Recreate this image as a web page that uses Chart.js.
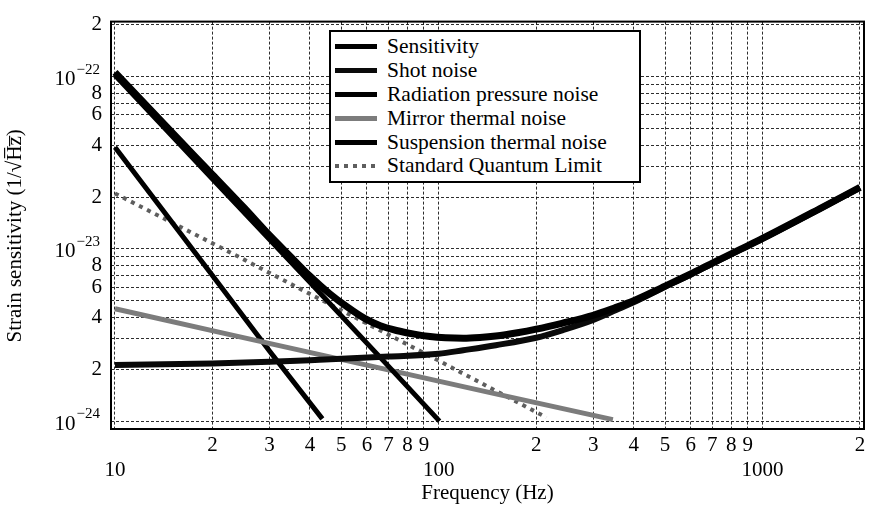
<!DOCTYPE html>
<html>
<head>
<meta charset="utf-8">
<script src="https://cdn.jsdelivr.net/npm/chart.js@4.4.1/dist/chart.umd.min.js"></script>
<style>
html,body{margin:0;padding:0;background:#fff;}
#wrap{position:relative;width:873px;height:506px;}
#legend{position:absolute;left:329px;top:30px;width:312px;height:153px;box-sizing:border-box;border:2px solid #000;background:#fff;padding:3px 0 0 4px;font-family:'Liberation Serif','Times New Roman',serif;font-size:21.5px;color:#000;}
#legend .row{height:23.8px;display:flex;align-items:center;white-space:nowrap;}
#legend .sw{width:42px;margin-right:10px;flex:none;}
</style>
</head>
<body>
<div id="wrap"><canvas id="c" width="873" height="506"></canvas><div id="legend"></div></div>
<script>
// ---- tick values and labels ----
const xTickValues = [10,20,30,40,50,60,70,80,90,100,200,300,400,500,600,700,800,900,1000,2000];
const xTickLabels = ['10','2','3','4','5','6','7','8','9','100','2','3','4','5','6','7','8','9','1000','2'];
const yTickValues = [1e-24,2e-24,3e-24,4e-24,5e-24,6e-24,7e-24,8e-24,9e-24,1e-23,2e-23,3e-23,4e-23,5e-23,6e-23,7e-23,8e-23,9e-23,1e-22,2e-22];
const yTickLabels = ['10^-24','2','','4','','6','','8','','10^-23','2','','4','','6','','8','','10^-22','2'];

// ---- series (frequency in Hz, strain in 1/sqrt(Hz)) ----
const sensFreq = [10,15,20,25,30,35,40,46,52,59,66,74,84,94,105,119,134,150,175,200,240,300,350,400,500,600,700,850,1000,1500,2000];
const sensVal  = [1.06e-22,4.75e-23,2.7e-23,1.74e-23,1.2e-23,8.95e-24,6.95e-24,5.5e-24,4.62e-24,3.95e-24,3.58e-24,3.36e-24,3.2e-24,3.1e-24,3.05e-24,3.03e-24,3.06e-24,3.12e-24,3.26e-24,3.42e-24,3.7e-24,4.12e-24,4.55e-24,5.0e-24,6.08e-24,7.15e-24,8.28e-24,9.9e-24,1.15e-23,1.71e-23,2.28e-23];

const shotFreq = [10,20,30,40,50,70,100,119,150,200,242,300,353,400,500,600,700,850,1000,1500,2000];
const shotVal  = [2.12e-24,2.16e-24,2.21e-24,2.26e-24,2.3e-24,2.37e-24,2.46e-24,2.58e-24,2.76e-24,3.05e-24,3.38e-24,3.87e-24,4.42e-24,4.9e-24,6.03e-24,7.1e-24,8.22e-24,9.85e-24,1.145e-23,1.705e-23,2.27e-23];

const radFreq = [10,20,40,70,100.5];
const radVal  = [1.02e-22,2.55e-23,6.4e-24,2.08e-24,1.0e-24];

const mirFreq = [10,23,66,150,345];
const mirVal  = [4.49e-24,3.16e-24,2.03e-24,1.44e-24,1.02e-24];

const suspFreq = [10,20,30,43.7];
const suspVal  = [3.9e-23,7.0e-24,2.55e-24,1.03e-24];

const sqlFreq = [10,22.8,50,98.8,215];
const sqlVal  = [2.1e-23,9.5e-24,4.4e-24,2.27e-24,1.05e-24];

const FONT = "'Liberation Serif','Times New Roman',serif";
const pts = (fs, vs) => fs.map((f, i) => ({x: f, y: vs[i]}));

const datasets = [
  {label:'Sensitivity', data:pts(sensFreq,sensVal), borderColor:'#000', borderWidth:7, cubicInterpolationMode:'monotone', order:0},
  {label:'Shot noise', data:pts(shotFreq,shotVal), borderColor:'#0a0a0a', borderWidth:6, cubicInterpolationMode:'monotone', order:1},
  {label:'Radiation pressure noise', data:pts(radFreq,radVal), borderColor:'#000', borderWidth:5, order:2},
  {label:'Mirror thermal noise', data:pts(mirFreq,mirVal), borderColor:'#7c7c7c', borderWidth:5, order:3},
  {label:'Suspension thermal noise', data:pts(suspFreq,suspVal), borderColor:'#000', borderWidth:5, order:4},
  {label:'Standard Quantum Limit', data:pts(sqlFreq,sqlVal), borderColor:'#5e5e5e', borderWidth:4, borderDash:[4,5], order:5}
];
datasets.forEach(d => { d.pointRadius = 0; d.fill = false; d.tension = 0; });

const frame = {
  id:'frame',
  afterDatasetsDraw(chart){
    const {ctx, chartArea:a} = chart;
    ctx.save();
    ctx.strokeStyle = '#000';
    ctx.lineWidth = 2;
    ctx.strokeRect(a.left, a.top, a.right - a.left, a.bottom - a.top);
    ctx.restore();
  }
};

// decade labels "10^n" drawn with a real superscript
const decadeLabels = {
  id:'decadeLabels',
  afterDraw(chart){
    const s = chart.scales.y, ctx = chart.ctx;
    ctx.save();
    ctx.fillStyle = '#000';
    ctx.textBaseline = 'middle';
    ctx.textAlign = 'left';
    yTickValues.forEach((v, i) => {
      const lab = yTickLabels[i];
      if (!lab.startsWith('10^')) return;
      const exp = lab.slice(3).replace('-', '\u2212');
      const y = s.getPixelForValue(v);
      const right = s.right - 11;
      ctx.font = '15px ' + FONT;
      const we = ctx.measureText(exp).width;
      ctx.font = '21px ' + FONT;
      const wb = ctx.measureText('10').width;
      ctx.fillText('10', right - we - wb - 1, y + 3);
      ctx.font = '15px ' + FONT;
      ctx.fillText(exp, right - we, y - 7);
    });
    ctx.restore();
  }
};

const gridOpts = {color:'rgba(0,0,0,0.82)', lineWidth:1, drawTicks:false};

const chart = new Chart(document.getElementById('c'), {
  type:'line',
  data:{datasets},
  plugins:[frame, decadeLabels],
  options:{
    responsive:false,
    animation:false,
    devicePixelRatio:1,
    layout:{padding:{left:0,right:9,top:13,bottom:0}},
    plugins:{legend:{display:false}, tooltip:{enabled:false}},
    scales:{
      x:{
        type:'logarithmic', min:9.72, max:2058,
        afterBuildTicks: s => { s.ticks = xTickValues.map(v => ({value:v})); },
        afterFit: s => { s.height = 77; },
        grid:gridOpts,
        border:{display:false, dash:[3,2]},
        ticks:{autoSkip:false, maxRotation:0, padding:4, color:'#000', font:{family:FONT,size:21},
          callback:(v,i) => { const l = xTickLabels[i]; return l.length > 1 ? ['', l] : l; }},
        title:{display:true, text:'Frequency (Hz)', color:'#000', font:{family:FONT,size:21}, padding:{top:0,bottom:0}}
      },
      y:{
        type:'logarithmic', min:0.937e-24, max:2.09e-22,
        afterBuildTicks: s => { s.ticks = yTickValues.map(v => ({value:v})); },
        afterFit: s => { s.width = 111; },
        grid:gridOpts,
        border:{display:false, dash:[3,2]},
        ticks:{autoSkip:false, padding:9, color:'#000', font:{family:FONT,size:21},
          callback:(v,i) => (yTickLabels[i].startsWith('10^') ? '' : yTickLabels[i])},
        title:{display:true, text:'Strain sensitivity (1/\u221AH\u0305z\u0305)    ', color:'#000', font:{family:FONT,size:21}, padding:{top:3,bottom:0}}
      }
    }
  }
});

// HTML legend built from the chart's datasets
const leg = document.getElementById('legend');
chart.data.datasets.forEach(d => {
  const row = document.createElement('div'); row.className = 'row';
  const sw = document.createElement('span'); sw.className = 'sw';
  if (d.borderDash) {
    sw.style.height = '4px';
    sw.style.background = 'repeating-linear-gradient(to right,' + d.borderColor + ' 0 4px, transparent 4px 9px)';
  } else {
    sw.style.height = '5px';
    sw.style.background = d.borderColor;
  }
  const tx = document.createElement('span'); tx.textContent = d.label;
  row.appendChild(sw); row.appendChild(tx); leg.appendChild(row);
});
</script>
</body>
</html>
